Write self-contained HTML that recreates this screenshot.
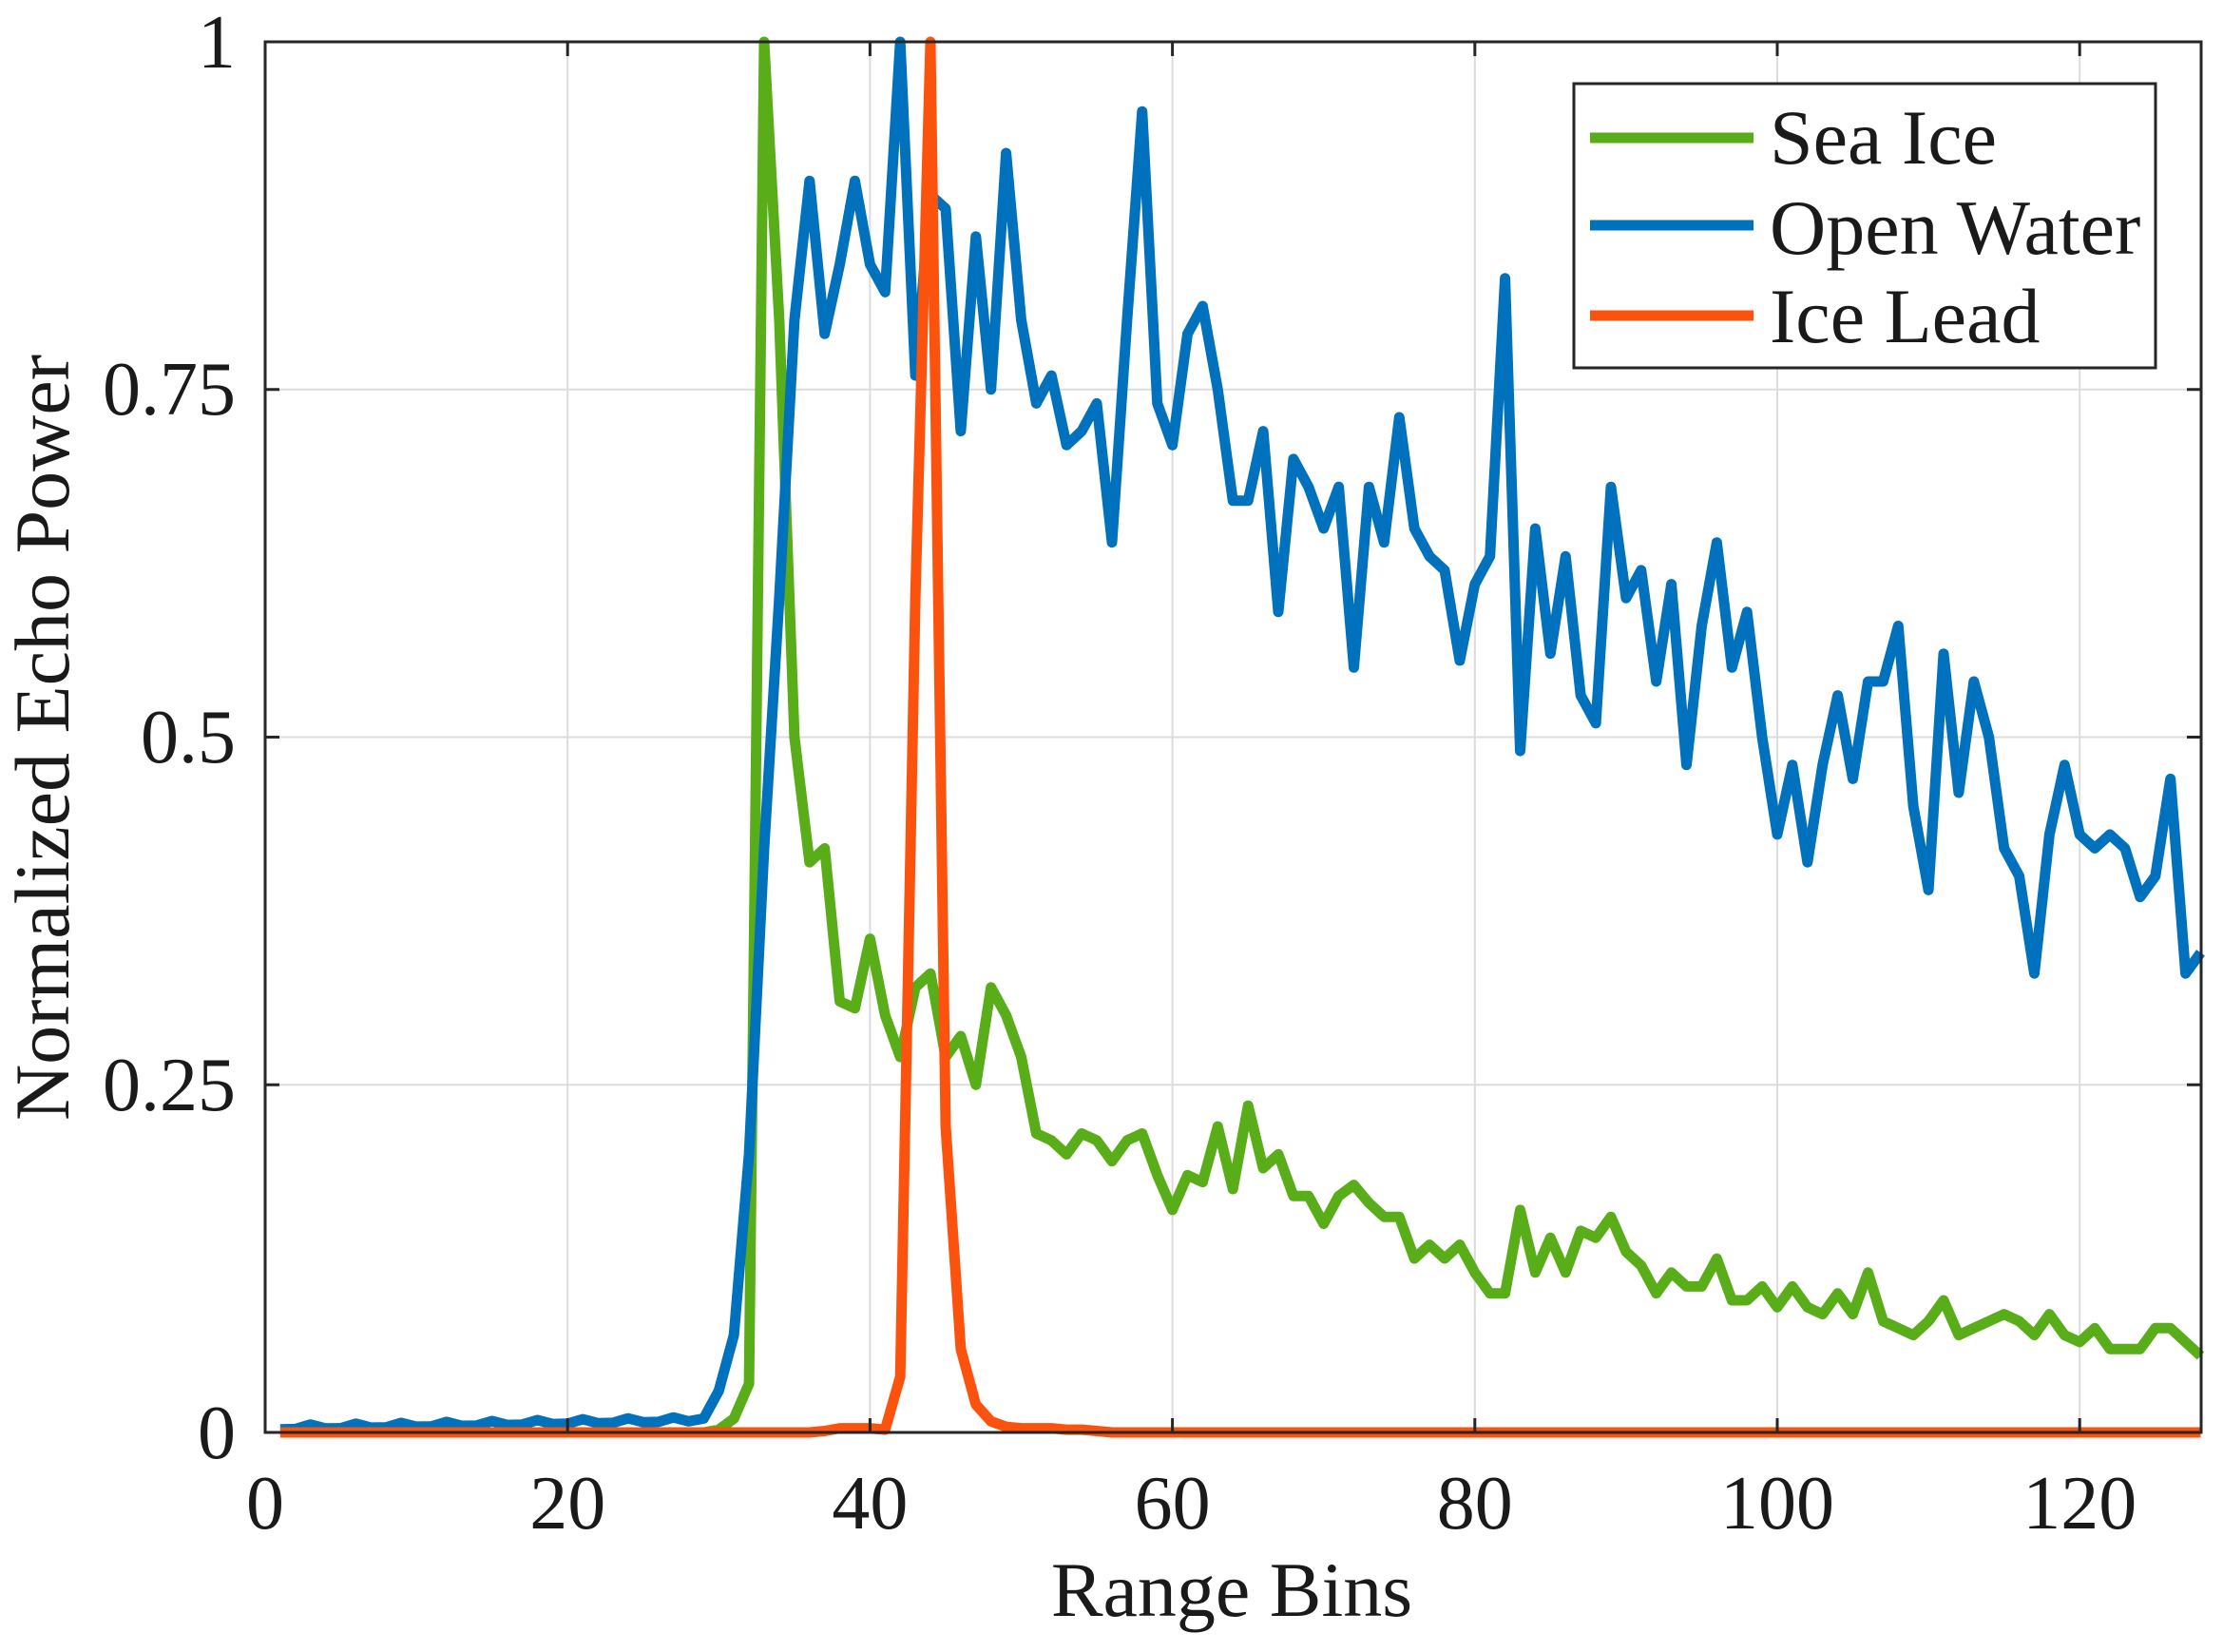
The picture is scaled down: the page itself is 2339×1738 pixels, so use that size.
<!DOCTYPE html>
<html><head><meta charset="utf-8"><style>
html,body{margin:0;padding:0;background:#fff;}
svg{display:block;}
text{font-family:"Liberation Serif",serif;fill:#1a1a1a;}
</style></head><body>
<svg id="s" width="2339" height="1738" xmlns="http://www.w3.org/2000/svg">
<g id="grid" stroke="#dcdcdc" stroke-width="2"></g>
<g id="series" fill="none" stroke-width="11" stroke-linejoin="round" stroke-linecap="butt"></g>
<rect x="279" y="44" width="2037" height="1463" fill="none" stroke="#262626" stroke-width="3"/>
<g id="ticks" stroke="#262626" stroke-width="3"></g>
<g font-size="80" text-anchor="end">
<text x="248" y="1534">0</text>
<text x="248" y="802">0.5</text>
<text x="248" y="436">0.75</text>
<text x="248" y="1168">0.25</text>
<text x="248" y="71">1</text>
</g>
<g id="xl" font-size="80" text-anchor="middle"></g>
<text x="1296" y="1700" font-size="82" text-anchor="middle">Range Bins</text>
<text transform="translate(72,776) rotate(-90)" font-size="82" text-anchor="middle">Normalized Echo Power</text>
<rect x="1656" y="88" width="612" height="299" fill="#fff" stroke="#262626" stroke-width="3"/>
<line x1="1673" y1="145" x2="1845" y2="145" stroke="#58ad18" stroke-width="11"/>
<line x1="1673" y1="237" x2="1845" y2="237" stroke="#0072bd" stroke-width="11"/>
<line x1="1673" y1="332" x2="1845" y2="332" stroke="#fb530d" stroke-width="11"/>
<g font-size="82">
<text x="1862" y="172">Sea Ice</text>
<text x="1862" y="267">Open Water</text>
<text x="1862" y="360">Ice Lead</text>
</g>
</svg>
<script>
var X=function(b){return 279+b*15.91;},Y=function(v){return 1507-v*1463;};
var NS="http://www.w3.org/2000/svg";
function el(p,t,a){var e=document.createElementNS(NS,t);for(var k in a)e.setAttribute(k,a[k]);p.appendChild(e);return e;}
var g=document.getElementById('grid'),tk=document.getElementById('ticks'),xl=document.getElementById('xl');
for(var i=20;i<=120;i+=20){el(g,'line',{x1:X(i),y1:44,x2:X(i),y2:1507});
el(tk,'line',{x1:X(i),y1:1507,x2:X(i),y2:1492});el(tk,'line',{x1:X(i),y1:44,x2:X(i),y2:59});}
for(var i=0;i<=120;i+=20){var t=el(xl,'text',{x:X(i),y:1608});t.textContent=i;}
[0.25,0.5,0.75].forEach(function(v){el(g,'line',{x1:279,y1:Y(v),x2:2316,y2:Y(v)});
el(tk,'line',{x1:279,y1:Y(v),x2:294,y2:Y(v)});el(tk,'line',{x1:2316,y1:Y(v),x2:2301,y2:Y(v)});});
var blue={};
for(var b=1;b<=28;b++)blue[b]=0.002+0.006*(b/28)+(b%3==0?0.003:0);
var bv=[0.01,0.03,0.07,0.2,0.42,0.6,0.8,0.9,0.79,0.84,0.9,0.84,0.82,1.0,0.76,0.89,0.88,0.72,0.86,0.75,0.92,0.8,0.74,0.76,0.71,0.72,0.74,0.64,0.8,0.95,0.74,0.71,0.79,0.81,0.75,0.67,0.67,0.72,0.59,0.7,0.68,0.65,0.68,0.55,0.68,0.64,0.73,0.65,0.63,0.62,0.555,0.61,0.63,0.83,0.49,0.65,0.56,0.63,0.53,0.51,0.68,0.6,0.62,0.54,0.61,0.48,0.58,0.64,0.55,0.59,0.5,0.43,0.48,0.41,0.48,0.53,0.47,0.54,0.54,0.58,0.45,0.39,0.56,0.46,0.54,0.5,0.42,0.4,0.33,0.43,0.48,0.43,0.42,0.43,0.42,0.385,0.4,0.47,0.33,0.345];
for(var i=0;i<bv.length;i++)blue[29+i]=bv[i];
var green={};for(var b=1;b<=29;b++)green[b]=0;
var gv=[0.002,0.01,0.035,1.0,0.8,0.5,0.41,0.42,0.31,0.305,0.355,0.3,0.27,0.32,0.33,0.27,0.285,0.25,0.32,0.3,0.27,0.215,0.21,0.2,0.215,0.21,0.195,0.21,0.215,0.185,0.16,0.185,0.18,0.22,0.175,0.235,0.19,0.2,0.17,0.17,0.15,0.17,0.178,0.165,0.155,0.155,0.125,0.135,0.125,0.135,0.115,0.1,0.1,0.16,0.115,0.14,0.115,0.145,0.14,0.155,0.13,0.12,0.1,0.115,0.105,0.105,0.125,0.095,0.095,0.105,0.09,0.105,0.09,0.085,0.1,0.085,0.115,0.08,0.075,0.07,0.08,0.095,0.07,0.075,0.08,0.085,0.08,0.07,0.085,0.07,0.065,0.075,0.06,0.06,0.06,0.075,0.075,0.065,0.055];
for(var i=0;i<gv.length;i++)green[30+i]=gv[i];
var red={};for(var b=1;b<=128;b++)red[b]=0;
Object.assign(red,{37:0.001,38:0.003,39:0.003,40:0.003,41:0.002,42:0.04,43:0.6,44:1.0,45:0.22,46:0.06,47:0.02,48:0.008,49:0.004,50:0.003,51:0.003,52:0.003,53:0.002,54:0.002,55:0.001});
var s=document.getElementById('series');
[[green,'#58ad18'],[blue,'#0072bd'],[red,'#fb530d']].forEach(function(p){
var pts=[];for(var b=1;b<=128;b++)pts.push(X(b).toFixed(1)+','+Y(p[0][b]).toFixed(1));
el(s,'polyline',{points:pts.join(' '),stroke:p[1]});});
</script>
</body></html>
